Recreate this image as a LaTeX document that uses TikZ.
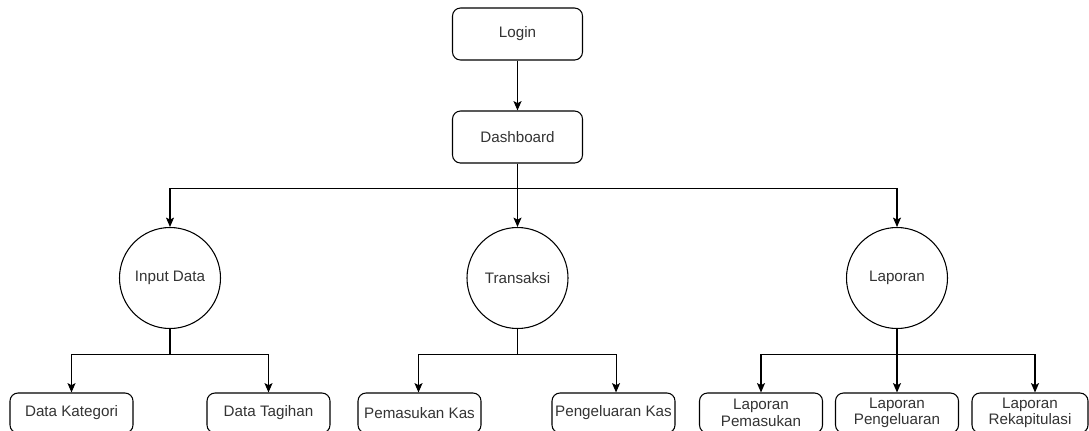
\documentclass[tikz,border=0pt]{standalone}
\usepackage{fontspec}
\setmainfont{Liberation Sans}
\usepackage{tikz}
\usetikzlibrary{arrows.meta}

\tikzset{
  menubox/.style={draw, rounded corners=6pt, line width=0.8pt, minimum width=97.5pt, minimum height=39pt, inner sep=0.75pt, align=center, text=black!80, font=\fontsize{11.4}{12.5}\selectfont},
  subbox/.style={menubox, minimum width=92.25pt, minimum height=30pt},
  procnode/.style={draw, circle, line width=0.8pt, minimum size=75.75pt, inner sep=0.75pt, text=black!80, font=\fontsize{11.4}{12.5}\selectfont},
  arr/.style={line width=0.8pt, -{Stealth[length=7pt,width=6pt,inset=1.5pt]}}
}

\begin{document}
\begin{tikzpicture}[x=0.75pt,y=0.75pt,yscale=-1,xscale=1]

\useasboundingbox (0,0) rectangle (1089,430);

% top boxes
\draw (517.5,34) node [menubox] (login) {Login};

\draw (517.5,137) node [menubox] (dash) {Dashboard};

% main menus
\draw (170,278) node [procnode] (input) {Input Data};

\draw (517.5,278) node [procnode] (trans) {Transaksi};

\draw (897,278) node [procnode] (lapor) {Laporan};

% sub menus
\draw (71.5,413) node [subbox] (kategori) {Data Kategori};

\draw (268.5,413) node [subbox] (tagihan) {Data Tagihan};

\draw (419.5,413) node [subbox] (masuk) {Pemasukan Kas};

\draw (613.5,413) node [subbox] (keluar) {Pengeluaran Kas};

\draw (761,413) node [subbox] (lapmasuk) {Laporan\\Pemasukan};

\draw (897,413) node [subbox] (lapkeluar) {Laporan\\Pengeluaran};

\draw (1030,413) node [subbox, minimum width=87pt] (laprekap) {Laporan\\Rekapitulasi};

% connectors
\draw [arr] (login) -- (dash) ;

\draw [arr] (dash.south) -- ++(0,25) -| (input.north) ;

\draw [arr] (dash.south) -- (trans.north) ;

\draw [arr] (dash.south) -- ++(0,25) -| (lapor.north) ;

\draw [arr] (input.south) -- ++(0,25) -| (kategori.north) ;

\draw [arr] (input.south) -- ++(0,25) -| (tagihan.north) ;

\draw [arr] (trans.south) -- ++(0,25) -| ([xshift=-0.75pt]masuk.north) ;

\draw [arr] (trans.south) -- ++(0,25) -| ([xshift=1.9pt]keluar.north) ;

\draw [arr] (lapor.south) -- ++(0,25) -| (lapmasuk.north) ;

\draw [arr] (lapor.south) -- (lapkeluar.north) ;

\draw [arr] (lapor.south) -- ++(0,25) -| ([xshift=3.75pt]laprekap.north) ;

\end{tikzpicture}
\end{document}
